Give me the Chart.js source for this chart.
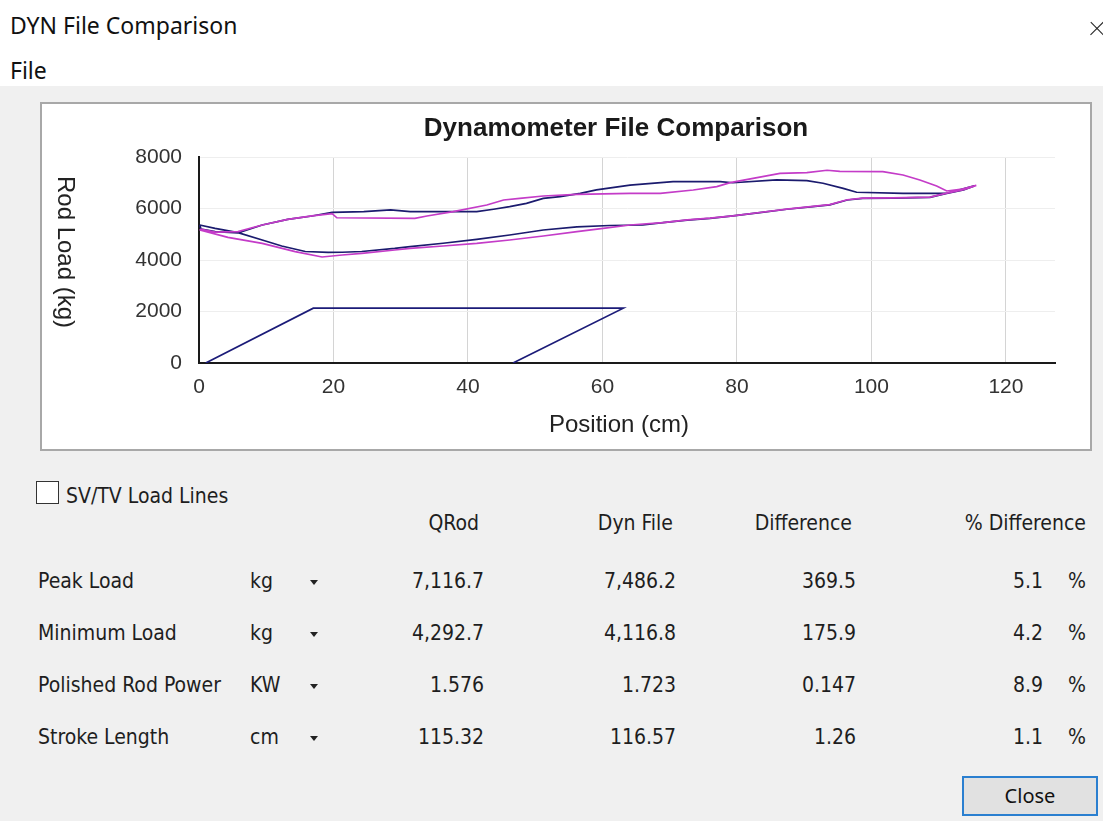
<!DOCTYPE html>
<html>
<head>
<meta charset="utf-8">
<script src="https://cdn.jsdelivr.net/npm/chart.js@4.4.0/dist/chart.umd.min.js"></script>
<style>
  html, body { margin:0; padding:0; }
  body { width:1103px; height:821px; position:relative; overflow:hidden; background:#f0f0f0;
         font-family:"DejaVu Sans Condensed","DejaVu Sans",sans-serif; font-stretch:condensed; color:#1e1e1e; }
  .top { position:absolute; left:0; top:0; width:1103px; height:86px; background:#fff; }
  .hdr { position:absolute; left:10px; font-family:"Noto Sans","Open Sans",sans-serif; font-stretch:normal; font-size:23px; line-height:26px; color:#111; }
  .xbtn { position:absolute; width:18px; height:1.4px; background:#222; }
  .panel { position:absolute; left:40px; top:102px; width:1052px; height:349px; box-sizing:border-box;
           border:2px solid #a8a8a8; background:#fff; }
  #cv { position:absolute; left:42px; top:104px; }
  .t { position:absolute; font-size:21px; line-height:24px; white-space:nowrap; }
  .r { text-align:right; }
  .chk { position:absolute; left:36px; top:481px; width:21px; height:21px; border:1.5px solid #333; background:#fff; }
  .arr { position:absolute; width:0; height:0; border-left:4px solid transparent; border-right:4px solid transparent; border-top:5px solid #222; }
  .btn { position:absolute; left:962px; top:776px; width:136px; height:40px; box-sizing:border-box;
         border:2px solid #2a7fd0; background:#e1e1e1; font-family:"Noto Sans","Open Sans",sans-serif; font-stretch:normal;
         font-size:20px; line-height:36px; text-align:center; color:#111; }
</style>
</head>
<body>
<div class="top"></div>
<div class="hdr" style="top:12px;">DYN File Comparison</div>
<div class="hdr" style="top:57px;">File</div>
<div class="xbtn" style="left:1088px; top:28px; transform:rotate(45deg);"></div>
<div class="xbtn" style="left:1088px; top:28px; transform:rotate(-45deg);"></div>
<div class="panel"></div>
<canvas id="cv" width="1048" height="345"></canvas>
<div class="chk"></div>
<div class="t" style="left:66px; top:484px;">SV/TV Load Lines</div>
<div id="tbl"></div>
<div class="btn">Close</div>
<script>
// ---- Chart data ----
const qrodX = [0.1,0.3,2.4,5.8,9.4,13.2,16.8,19.8,24.5,28.5,31.4,41.3,43.8,46.2,48.7,51.2,53.7,56.7,59.1,64.1,70.5,77.5,79.4,85.9,90.4,92.8,95.8,97.8,104.7,111.2,115.3,
               113.7,111.2,108.7,103.2,98.7,96.4,93.8,91.3,87.4,83.4,79.4,76.0,72.6,69.0,66.0,61.1,56.2,51.2,46.2,41.3,36.3,31.4,29.1,24.2,21.3,19.2,15.8,12.3,9.4,5.8,2.4,0.1];
const qrodY = [5360,5200,5100,5050,5360,5580,5710,5850,5880,5950,5880,5880,5970,6070,6200,6390,6460,6590,6720,6910,7040,7040,7000,7110,7080,6980,6780,6630,6590,6590,6880,
               6720,6590,6430,6400,6390,6330,6140,6070,5970,5840,5710,5620,5550,5450,5360,5340,5290,5165,4970,4800,4650,4520,4450,4330,4300,4293,4330,4544,4777,5061,5230,5360];
const dynX = [0.2,2.4,5.8,9.4,13.2,16.8,19.8,20.5,32.1,33.9,37.8,42.8,45.3,47.7,51.2,56.2,64.1,68.6,73.5,77.0,79.0,82.4,86.4,90.4,93.4,95.3,101.7,104.7,107.2,109.7,111.2,113.5,115.6,
              113.7,111.2,108.7,103.2,98.7,96.4,93.8,91.3,87.4,83.4,79.4,76.0,72.6,69.0,64.1,60.1,56.2,51.2,46.2,41.3,36.3,31.4,29.1,24.2,21.3,18.3,14.3,9.4,4.3,0.2,0.2];
const dynY = [5200,5080,5100,5360,5580,5710,5800,5640,5620,5710,5876,6136,6330,6394,6485,6550,6590,6590,6718,6848,7003,7171,7366,7391,7486,7440,7430,7301,7107,6874,6680,6750,6900,
              6730,6600,6440,6410,6400,6340,6150,6080,5975,5845,5715,5625,5555,5455,5359,5230,5100,4932,4777,4647,4544,4453,4388,4259,4194,4117,4323,4647,4880,5165,5200];
const pumpX = [1, 17, 63.1, 46.7];
const pumpY = [0, 2130, 2130, 0];
const xTicks = [0, 20, 40, 60, 80, 100, 120];
const yTicks = [0, 2000, 4000, 6000, 8000];

// ---- Table data ----
const rowLabels = ["Peak Load", "Minimum Load", "Polished Rod Power", "Stroke Length"];
const rowUnits = ["kg", "kg", "KW", "cm"];
const qrodVals = ["7,116.7", "4,292.7", "1.576", "115.32"];
const dynVals = ["7,486.2", "4,116.8", "1.723", "116.57"];
const diffVals = ["369.5", "175.9", "0.147", "1.26"];
const pctVals = ["5.1", "4.2", "8.9", "1.1"];
const colHeads = ["QRod", "Dyn File", "Difference", "% Difference"];

const pts = (xs, ys) => xs.map((x, i) => ({x: x, y: ys[i]}));
const FF = '"Liberation Sans", Arial, sans-serif';

const titlesPlugin = {
  id: 'titles',
  afterDraw(chart) {
    const c = chart.ctx;
    c.save();
    c.textAlign = 'center';
    c.textBaseline = 'middle';
    c.fillStyle = '#1a1a1a';
    c.font = 'bold 26px ' + FF;
    c.fillText('Dynamometer File Comparison', 574, 25);
    c.fillStyle = '#222';
    c.font = '24px ' + FF;
    c.fillText('Position (cm)', 577, 321);
    c.translate(23, 148);
    c.rotate(Math.PI / 2);
    c.fillText('Rod Load (kg)', 0, 0);
    c.restore();
  }
};

new Chart(document.getElementById('cv'), {
  type: 'scatter',
  data: {
    datasets: [
      {label: 'Pump', data: pts(pumpX, pumpY), showLine: true, borderColor: '#1b1b78', borderWidth: 1.7, pointRadius: 0, tension: 0},
      {label: 'Dyn File', data: pts(dynX, dynY), showLine: true, borderColor: '#c43cc8', borderWidth: 1.7, pointRadius: 0, tension: 0},
      {label: 'QRod', data: pts(qrodX, qrodY), showLine: true, borderColor: '#1b1b6e', borderWidth: 1.7, pointRadius: 0, tension: 0}
    ]
  },
  options: {
    responsive: false, animation: false, devicePixelRatio: 1,
    layout: {padding: {left: 0, right: 35, top: 53, bottom: 0}},
    plugins: {legend: {display: false}, tooltip: {enabled: false}, title: {display: false}},
    scales: {
      x: {
        type: 'linear', min: 0, max: 127.3,
        afterBuildTicks: s => { s.ticks = xTicks.map(v => ({value: v})); },
        afterFit: s => { s.height = 86; },
        ticks: {font: {family: FF, size: 21}, color: '#333', padding: 12, maxRotation: 0, callback: v => String(v)},
        grid: {color: '#d4d4d4', drawTicks: false},
        border: {display: true, color: '#1a1a1a', width: 2}
      },
      y: {
        min: 0, max: 8000,
        afterBuildTicks: s => { s.ticks = yTicks.map(v => ({value: v})); },
        afterFit: s => { s.width = 157; },
        ticks: {font: {family: FF, size: 21}, color: '#333', padding: 17, callback: v => String(v)},
        grid: {color: '#eeeeee', drawTicks: false},
        border: {display: true, color: '#1a1a1a', width: 2}
      }
    }
  },
  plugins: [titlesPlugin]
});

// ---- Table ----
const tbl = document.getElementById('tbl');
function addText(txt, left, right, cy) {
  const d = document.createElement('div');
  d.className = 't' + (right !== null ? ' r' : '');
  d.textContent = txt;
  d.style.top = (cy - 12) + 'px';
  if (right !== null) { d.style.right = (1103 - right) + 'px'; } else { d.style.left = left + 'px'; }
  tbl.appendChild(d);
}
const headRights = [479, 673, 852, 1086];
colHeads.forEach((h, i) => addText(h, null, headRights[i], 523));
const rowY = [581, 633, 685, 737];
rowLabels.forEach((lab, i) => {
  const cy = rowY[i];
  addText(lab, 38, null, cy);
  addText(rowUnits[i], 250, null, cy);
  const a = document.createElement('div');
  a.className = 'arr'; a.style.left = '310px'; a.style.top = (cy - 1) + 'px';
  tbl.appendChild(a);
  addText(qrodVals[i], null, 484, cy);
  addText(dynVals[i], null, 676, cy);
  addText(diffVals[i], null, 856, cy);
  addText(pctVals[i], null, 1043, cy);
  addText('%', 1068, null, cy);
});
</script>
</body>
</html>
